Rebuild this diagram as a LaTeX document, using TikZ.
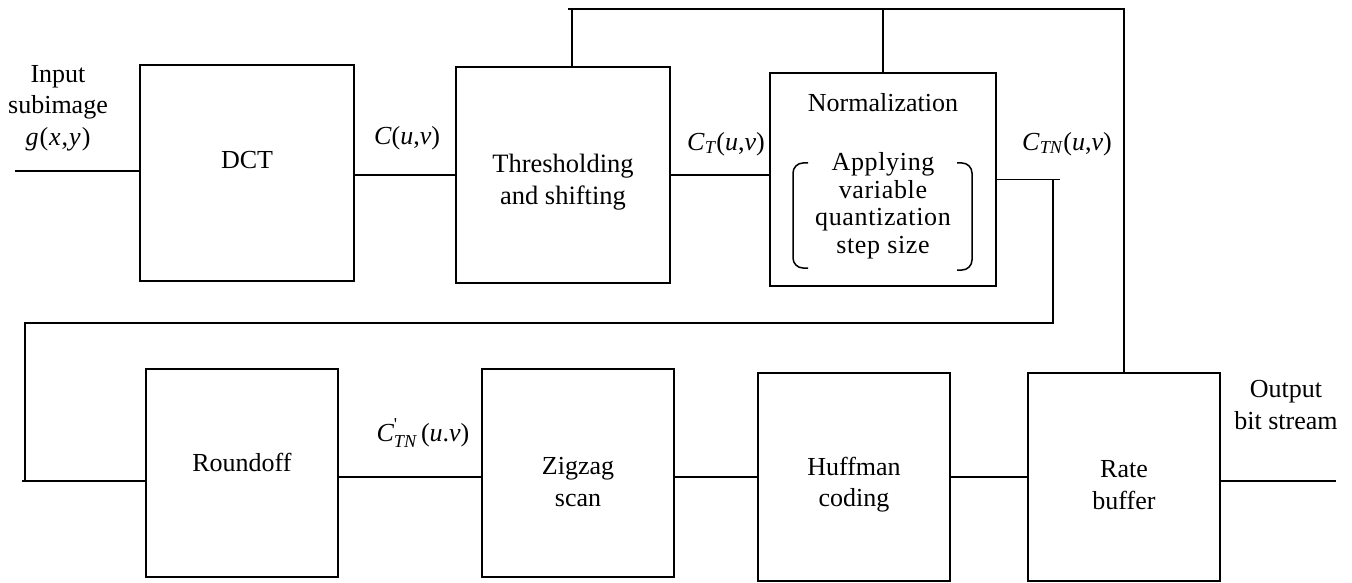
\documentclass[tikz,border=0pt]{standalone}
\usepackage{amsmath}
\usepackage{fontspec}
\setmainfont{Liberation Serif}
\begin{document}
\begin{tikzpicture}[x=1pt,y=-1pt,
  line width=1.7pt,
  blk/.style={draw, inner sep=0pt},
  lbl/.style={inner sep=0pt, align=center, font=\fontsize{26}{31.5}\selectfont},
  bigblk/.style={blk, minimum width=214pt, minimum height=216pt},
  smallblk/.style={blk, minimum width=192pt, minimum height=208pt}]
\useasboundingbox (0,0) rectangle (1352,583);

% upper row of blocks
\node[bigblk] (dct) at (247,173) {};
\node[lbl] (dcttxt) at (247,160) {DCT};
\node[bigblk] (thr) at (563,175) {};
\node[lbl, font=\fontsize{26.5}{32}\selectfont] (thrtxt) at (563,182) {Thresholding\\and shifting};
\node[blk, minimum width=226pt, minimum height=213pt] (nrm) at (883,179.5) {};
\node[lbl] (nrmtitle) at (883,103) {Normalization};
\node[inner sep=0pt, align=center,
  font=\fontsize{26}{27.5}\selectfont\addfontfeature{LetterSpace=2.5}] (nrmbody) at (883,205.5)
  {Applying\\variable\\quantization\\step size};
\draw[line width=1.5pt, rounded corners=10pt] (808,163) -- (793,163) -- (793,268) -- (808,268);
\draw[line width=1.5pt, rounded corners=10pt] (957,163) -- (972,163) -- (972,270) -- (957,270);

% lower row of blocks
\node[smallblk] (rnd) at (242,473) {};
\node[lbl] (rndtxt) at (242,462) {Roundoff};
\node[smallblk] (zig) at (578,473) {};
\node[lbl] (zigtxt) at (578,482) {Zigzag\\scan};
\node[smallblk] (huf) at (854,477) {};
\node[lbl] (huftxt) at (854,484.5) {Huffman\\coding};
\node[smallblk] (rate) at (1124,477) {};
\node[lbl] (ratetxt) at (1124,485) {Rate\\buffer};

% signal labels
\node[lbl] (inlbl) at (58,108) {Input\\subimage\\\textit{g}\kern1pt(\kern1pt\textit{x}\kern1pt,\kern1pt\textit{y}\kern1pt)};
\node[lbl] (c) at (407,138) {\textit{C}(\textit{u},\textit{v})};
\node[lbl] (ct) at (726,144) {\textit{C}\textsubscript{\textit{T}}(\textit{u},\textit{v})};
\node[lbl] (ctn) at (1067,144) {\textit{C}\textsubscript{\textit{TN}}(\textit{u},\textit{v})};
\node[lbl] (ctnp) at (423,433) {$\textit{C}^{\textnormal{\textquotesingle}}_{\textit{TN}}$\,(\textit{u}.\textit{v})};
\node[lbl] (outlbl) at (1286,405) {Output\\bit stream};

% connectors
\coordinate (in0) at (15,171);
\draw (in0) -- (in0 -| dct.west);
\draw (dct.east |- thr.west) -- (thr.west);
\draw (thr.east) -- (thr.east -| nrm.west);

% rate control feedback along the top
\coordinate (t0) at (568,9);
\coordinate (tq) at (572,9);
\draw (t0) -- (t0 -| rate.north) -- (rate.north);
\draw (tq) -- (tq |- thr.north);
\draw (nrm.north |- t0) -- (nrm.north);

% normalized coefficients down to the roundoff block
\coordinate (nend) at (1060,179.5);
\coordinate (d0) at (1053,179.5);
\coordinate (d1) at (1053,323);
\coordinate (d2) at (25,323);
\coordinate (d3) at (25,481);
\coordinate (d4) at (22,481);
\draw (nrm.east) -- (nend);
\draw (d0) -- (d1) -- (d2) -- (d3);
\draw (d4) -- (d4 -| rnd.west);

% lower chain
\draw ([yshift=-4pt]rnd.east) -- ([yshift=-4pt]zig.west);
\draw (huf.west -| zig.east) -- (huf.west);
\draw (huf.east) -- (rate.west);
\coordinate (out) at (1336,481);
\draw (out -| rate.east) -- (out);
\end{tikzpicture}
\end{document}
